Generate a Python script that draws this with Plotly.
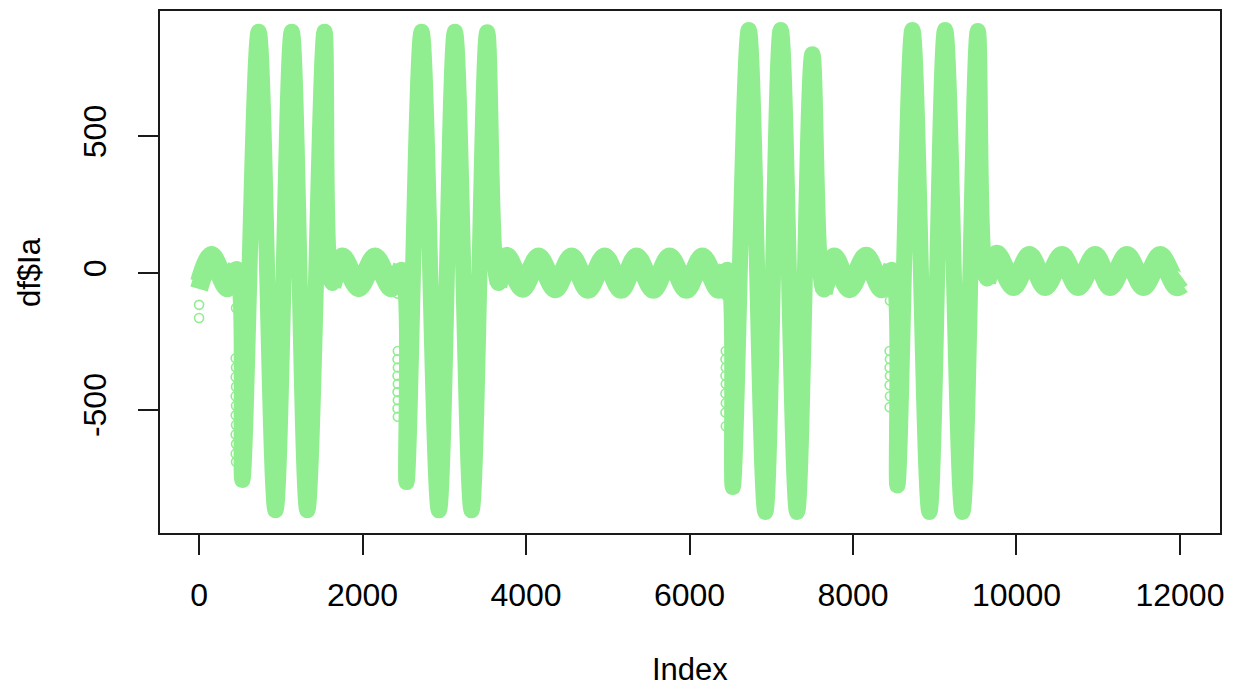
import plotly.graph_objects as go

# ---- data (local extrema of df$Ia vs Index) ----
ext_idx = [0, 152, 345, 461,
           529, 729, 935, 1134, 1324, 1535, 1630,
           1753, 1953, 2153, 2350, 2481,
           2538, 2722, 2934, 3130, 3334, 3525, 3660,
           3765, 3957, 4153, 4357, 4558, 4757, 4962, 5161, 5352, 5557, 5756, 5962, 6157, 6357, 6465,
           6529, 6725, 6928, 7116, 7316, 7503, 7642,
           7770, 7957, 8160, 8350, 8479,
           8543, 8727, 8935, 9127, 9339, 9527, 9640,
           9760, 9963, 10159, 10351, 10556, 10755, 10963, 11147, 11351, 11554, 11759, 11955, 12030]
ext_val = [-45, 53, -42, 15,
           -756, 882, -867, 882, -867, 882, -36,
           48, -42, 48, -42, 12,
           -764, 882, -867, 882, -867, 880, -36,
           50, -44, 48, -46, 48, -48, 48, -48, 48, -48, 48, -48, 48, -48, 12,
           -782, 889, -873, 889, -873, 800, -60,
           48, -46, 50, -46, 12,
           -776, 889, -873, 889, -873, 885, -20,
           58, -38, 53, -38, 53, -38, 53, -38, 53, -38, 53, -38, -30]

# high-amplitude bursts (Index ranges)
burst_start = [461, 2481, 6465, 8479]
burst_end = [1630, 3660, 7642, 9640]

# isolated open circles visible at the start and on the left edge of each burst
fringe_idx = [0, 0,
              452, 448, 452, 448, 452, 448, 452, 448, 452, 448, 452, 448, 452,
              2428, 2432, 2428, 2432, 2428, 2432, 2428, 2432, 2428, 2432,
              6440, 6444, 6440, 6444, 6440, 6444, 6440, 6444, 6440, 6444,
              8452, 8448, 8452, 8448, 8452, 8448, 8452, 8448]
fringe_val = [-116, -164,
              -128, -311, -345, -380, -415, -450, -485, -520, -555, -590, -625, -660, -690,
              -75, -285, -315, -345, -375, -405, -435, -465, -495, -525,
              -80, -285, -315, -345, -375, -405, -440, -475, -510, -560,
              -100, -285, -315, -345, -375, -410, -450, -490]

x_ticks = [0, 2000, 4000, 6000, 8000, 10000, 12000]
y_ticks = [-500, 0, 500]

GREEN = "#90EE90"
FONT = "Liberation Sans, Arial, sans-serif"
BAND = 13          # half thickness of the low-amplitude band core (data units)

fig = go.Figure()
n = len(ext_idx)

# burst segments: thick spline line (include one neighbour on each side for smooth joins)
for s, e in zip(burst_start, burst_end):
    ids = [i for i in range(n) if s <= ext_idx[i] <= e]
    lo, hi = max(ids[0] - 1, 0), min(ids[-1] + 1, n - 1)
    fig.add_trace(go.Scatter(
        x=ext_idx[lo:hi + 1], y=ext_val[lo:hi + 1], mode="lines",
        line=dict(color=GREEN, width=16, shape="spline", smoothing=1.0),
        hoverinfo="skip", showlegend=False))

# quiet segments: filled band around the low-amplitude oscillation
edges = [ext_idx[0] - 1] + [v for pair in zip(burst_start, burst_end) for v in pair] + [ext_idx[-1] + 1]
for k in range(0, len(edges), 2):
    a, b = edges[k], edges[k + 1]
    ids = [i for i in range(n) if a <= ext_idx[i] <= b]
    xs = [ext_idx[i] for i in ids]
    ys = [ext_val[i] for i in ids]
    fig.add_trace(go.Scatter(
        x=xs, y=[v + BAND for v in ys], mode="lines",
        line=dict(color=GREEN, width=18, shape="spline", smoothing=1.0),
        hoverinfo="skip", showlegend=False))
    fig.add_trace(go.Scatter(
        x=xs, y=[v - BAND for v in ys], mode="lines", fill="tonexty", fillcolor=GREEN,
        line=dict(color=GREEN, width=18, shape="spline", smoothing=1.0),
        hoverinfo="skip", showlegend=False))

fig.add_trace(go.Scatter(
    x=fringe_idx, y=fringe_val, mode="markers",
    marker=dict(symbol="circle-open", size=9, color=GREEN, line=dict(width=1.6, color=GREEN)),
    hoverinfo="skip", showlegend=False))

axis_common = dict(
    showgrid=False, zeroline=False, showline=True, mirror=True, automargin=False,
    linecolor="#1a1a1a", linewidth=1.5, ticks="outside", ticklen=20,
    tickwidth=1.5, tickcolor="#1a1a1a",
    tickfont=dict(family=FONT, size=32, color="black"))

fig.update_layout(
    width=1235, height=689, autosize=False,
    margin=dict(l=160, r=15, t=11, b=156),
    paper_bgcolor="white", plot_bgcolor="white",
    xaxis=dict(range=[-478, 12490], tickvals=x_ticks,
               ticktext=[str(v) for v in x_ticks], ticklabelstandoff=13, **axis_common),
    yaxis=dict(range=[-950, 958], tickvals=y_ticks,
               ticktext=[str(v) for v in y_ticks], tickangle=-90,
               ticklabelstandoff=19, **axis_common),
    annotations=[
        dict(text="Index", xref="paper", yref="paper", x=0.5, y=0,
             xanchor="center", yanchor="middle", yshift=-136, showarrow=False,
             font=dict(family=FONT, size=31, color="black")),
        dict(text="df$Ia", xref="paper", yref="paper", x=0, y=0.5,
             xanchor="center", yanchor="middle", xshift=-131, textangle=-90,
             showarrow=False, font=dict(family=FONT, size=31, color="black")),
    ],
)

fig.write_html("out.html", config={"displayModeBar": False},
               post_script="document.body.style.margin='0px';")
